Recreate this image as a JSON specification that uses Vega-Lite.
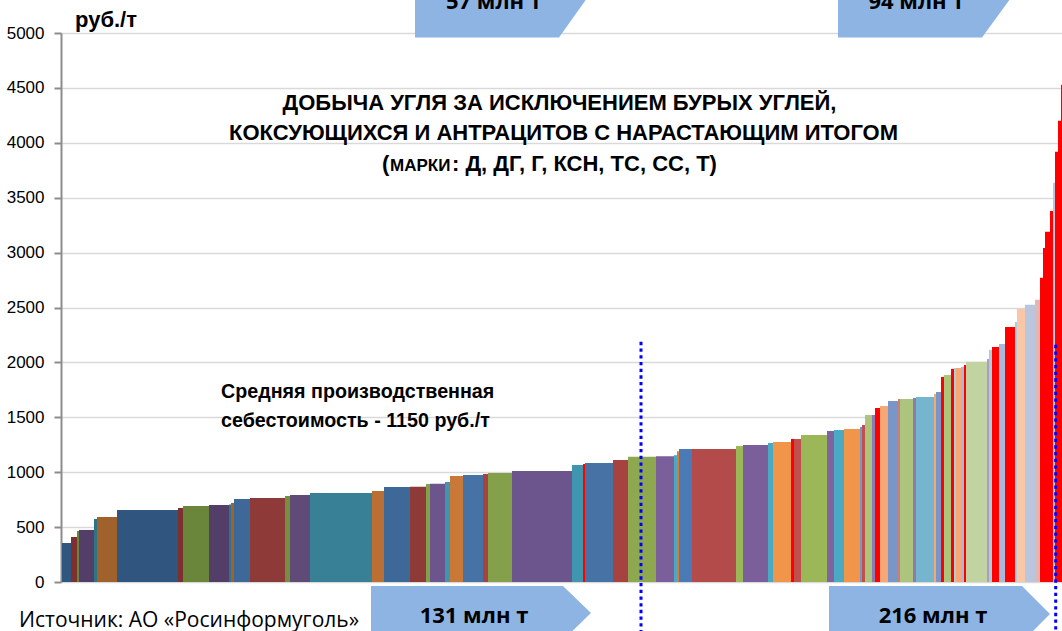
{
  "$schema": "https://vega.github.io/schema/vega-lite/v6.json",
  "width": 1001,
  "height": 549,
  "autosize": {"type": "none"},
  "padding": {"left": 61, "top": 33, "right": 0, "bottom": 49},
  "background": "white",
  "config": {"view": {"stroke": null}},
  "datasets": {
    "bars": [
      {"x0": 1, "x1": 10, "v": 355, "t": "b1"},
      {"x0": 10, "x1": 16, "v": 410, "t": "r1"},
      {"x0": 16, "x1": 18, "v": 465, "t": "g1"},
      {"x0": 18, "x1": 33, "v": 474, "t": "p1"},
      {"x0": 33, "x1": 36, "v": 574, "t": "t1"},
      {"x0": 36, "x1": 56, "v": 592, "t": "o1"},
      {"x0": 56, "x1": 117, "v": 656, "t": "b1"},
      {"x0": 117, "x1": 122, "v": 674, "t": "r1"},
      {"x0": 122, "x1": 148, "v": 692, "t": "g1"},
      {"x0": 148, "x1": 168, "v": 701, "t": "p1"},
      {"x0": 168, "x1": 170, "v": 705, "t": "t1"},
      {"x0": 170, "x1": 173, "v": 720, "t": "o1"},
      {"x0": 173, "x1": 189, "v": 756, "t": "b2"},
      {"x0": 189, "x1": 224, "v": 765, "t": "r2"},
      {"x0": 224, "x1": 229, "v": 783, "t": "g2"},
      {"x0": 229, "x1": 249, "v": 793, "t": "p2"},
      {"x0": 249, "x1": 311, "v": 811, "t": "t2"},
      {"x0": 311, "x1": 323, "v": 829, "t": "o2"},
      {"x0": 323, "x1": 349, "v": 866, "t": "b2"},
      {"x0": 349, "x1": 365, "v": 868, "t": "r2"},
      {"x0": 365, "x1": 369, "v": 893, "t": "g3"},
      {"x0": 369, "x1": 384, "v": 895, "t": "p3"},
      {"x0": 384, "x1": 389, "v": 911, "t": "t3"},
      {"x0": 389, "x1": 402, "v": 966, "t": "o3"},
      {"x0": 402, "x1": 422, "v": 975, "t": "b3"},
      {"x0": 422, "x1": 427, "v": 984, "t": "r3"},
      {"x0": 427, "x1": 451, "v": 993, "t": "g3"},
      {"x0": 451, "x1": 511, "v": 1011, "t": "p3"},
      {"x0": 511, "x1": 522, "v": 1066, "t": "t3"},
      {"x0": 522, "x1": 524, "v": 1075, "t": "R"},
      {"x0": 524, "x1": 552, "v": 1084, "t": "b3"},
      {"x0": 552, "x1": 567, "v": 1112, "t": "r3"},
      {"x0": 567, "x1": 595, "v": 1140, "t": "g4"},
      {"x0": 595, "x1": 613, "v": 1145, "t": "p4"},
      {"x0": 613, "x1": 616, "v": 1155, "t": "t4"},
      {"x0": 616, "x1": 618, "v": 1190, "t": "o4"},
      {"x0": 618, "x1": 631, "v": 1212, "t": "b4"},
      {"x0": 631, "x1": 675, "v": 1212, "t": "r4"},
      {"x0": 675, "x1": 682, "v": 1239, "t": "g5"},
      {"x0": 682, "x1": 707, "v": 1248, "t": "p4"},
      {"x0": 707, "x1": 712, "v": 1266, "t": "t4"},
      {"x0": 712, "x1": 730, "v": 1276, "t": "o5"},
      {"x0": 730, "x1": 733, "v": 1303, "t": "R"},
      {"x0": 733, "x1": 740, "v": 1303, "t": "r5"},
      {"x0": 740, "x1": 766, "v": 1339, "t": "g5"},
      {"x0": 766, "x1": 773, "v": 1376, "t": "p5"},
      {"x0": 773, "x1": 783, "v": 1385, "t": "t4"},
      {"x0": 783, "x1": 799, "v": 1394, "t": "o5"},
      {"x0": 799, "x1": 801, "v": 1412, "t": "b5"},
      {"x0": 801, "x1": 804, "v": 1430, "t": "r5"},
      {"x0": 804, "x1": 811, "v": 1521, "t": "g6"},
      {"x0": 811, "x1": 814, "v": 1521, "t": "p6"},
      {"x0": 814, "x1": 819, "v": 1585, "t": "R"},
      {"x0": 819, "x1": 827, "v": 1604, "t": "o6"},
      {"x0": 827, "x1": 837, "v": 1649, "t": "b5"},
      {"x0": 837, "x1": 839, "v": 1667, "t": "r6"},
      {"x0": 839, "x1": 852, "v": 1667, "t": "g6"},
      {"x0": 852, "x1": 855, "v": 1676, "t": "p6"},
      {"x0": 855, "x1": 873, "v": 1686, "t": "t5"},
      {"x0": 873, "x1": 875, "v": 1713, "t": "o6"},
      {"x0": 875, "x1": 880, "v": 1731, "t": "b5"},
      {"x0": 880, "x1": 883, "v": 1868, "t": "R"},
      {"x0": 883, "x1": 890, "v": 1886, "t": "g6"},
      {"x0": 890, "x1": 893, "v": 1941, "t": "R"},
      {"x0": 893, "x1": 895, "v": 1950, "t": "t6"},
      {"x0": 895, "x1": 900, "v": 1950, "t": "o6"},
      {"x0": 900, "x1": 903, "v": 1959, "t": "b6"},
      {"x0": 903, "x1": 905, "v": 1977, "t": "R"},
      {"x0": 905, "x1": 926, "v": 2005, "t": "g7"},
      {"x0": 926, "x1": 928, "v": 2032, "t": "p7"},
      {"x0": 928, "x1": 931, "v": 2114, "t": "t6"},
      {"x0": 931, "x1": 938, "v": 2141, "t": "R"},
      {"x0": 938, "x1": 944, "v": 2168, "t": "b6"},
      {"x0": 944, "x1": 954, "v": 2323, "t": "R"},
      {"x0": 954, "x1": 956, "v": 2369, "t": "t6"},
      {"x0": 956, "x1": 964, "v": 2488, "t": "o7"},
      {"x0": 964, "x1": 974, "v": 2524, "t": "b7"},
      {"x0": 974, "x1": 979, "v": 2570, "t": "r7"},
      {"x0": 979, "x1": 982, "v": 2770, "t": "R"},
      {"x0": 982, "x1": 984, "v": 3043, "t": "R"},
      {"x0": 984, "x1": 989, "v": 3189, "t": "R"},
      {"x0": 989, "x1": 992, "v": 3380, "t": "R"},
      {"x0": 992, "x1": 994, "v": 3636, "t": "b7"},
      {"x0": 994, "x1": 997, "v": 3918, "t": "R"},
      {"x0": 997, "x1": 1000, "v": 4200, "t": "R"},
      {"x0": 1000, "x1": 1001, "v": 4528, "t": "R"}
    ],
    "arrows": [
      {"id": "a131", "x": 310, "top": -36, "bottom": -529},
      {"id": "a131", "x": 502, "top": -36, "bottom": -529},
      {"id": "a131", "x": 530, "top": -283, "bottom": -283},
      {"id": "a216", "x": 768, "top": -36, "bottom": -547},
      {"id": "a216", "x": 961, "top": -36, "bottom": -547},
      {"id": "a216", "x": 989, "top": -292, "bottom": -292},
      {"id": "a57", "x": 354, "top": 5900, "bottom": 4958},
      {"id": "a57", "x": 498, "top": 5900, "bottom": 4958},
      {"id": "a57", "x": 539, "top": 5484, "bottom": 5484},
      {"id": "a94", "x": 777, "top": 5900, "bottom": 4958},
      {"id": "a94", "x": 921, "top": 5900, "bottom": 4958},
      {"id": "a94", "x": 963, "top": 5484, "bottom": 5484}
    ],
    "dots": [
      {"x": 580, "y1": 2187, "y2": -540},
      {"x": 994.7, "y1": 2160, "y2": -540}
    ],
    "arrowText": [
      {"x": 413, "y": -374, "label": "131 млн т"},
      {"x": 872, "y": -374, "label": "216 млн т"},
      {"x": 433, "y": 5216, "label": "57 млн т"},
      {"x": 855.5, "y": 5216, "label": "94 млн т"}
    ],
    "titleText": [
      {"x": 498.5, "y": 4300, "label": "ДОБЫЧА УГЛЯ ЗА ИСКЛЮЧЕНИЕМ БУРЫХ УГЛЕЙ,"},
      {"x": 502.5, "y": 4027, "label": "КОКСУЮЩИХСЯ И АНТРАЦИТОВ С НАРАСТАЮЩИМ ИТОГОМ"}
    ],
    "noteText": [
      {"x": 160, "y": 1676, "label": "Средняя производственная"},
      {"x": 160, "y": 1412, "label": "себестоимость - 1150 руб./т"}
    ]
  },
  "layer": [
    {
      "data": {"name": "bars"},
      "mark": {"type": "rect"},
      "encoding": {
        "x": {"field": "x0", "type": "quantitative", "scale": {"domain": [0, 1001], "nice": false, "zero": false}, "axis": null},
        "x2": {"field": "x1"},
        "y": {"field": "v", "type": "quantitative", "scale": {"domain": [0, 5000], "nice": false},
          "axis": {"values": [0, 500, 1000, 1500, 2000, 2500, 3000, 3500, 4000, 4500, 5000], "format": "d", "title": null,
            "labelFont": "Liberation Sans", "labelFontSize": 17, "labelColor": "#000000", "labelPadding": 10,
            "tickSize": 7, "tickColor": "#8C8C8C", "tickWidth": 2, "domainColor": "#8C8C8C", "domainWidth": 2,
            "grid": true, "gridColor": "#D9D9D9", "gridWidth": 1.5}},
        "y2": {"datum": 0},
        "color": {"field": "t", "type": "nominal", "legend": null,
          "scale": {
            "domain": ["b1","b2","b3","b4","b5","b6","b7","r1","r2","r3","r4","r5","r6","r7","g1","g2","g3","g4","g5","g6","g7","p1","p2","p3","p4","p5","p6","p7","t1","t2","t3","t4","t5","t6","o1","o2","o3","o4","o5","o6","o7","R"],
            "range": ["#30557F","#3D6898","#4672A6","#4A7BB7","#7A96C6","#A9B9DA","#BAC6DE","#7C3030","#8D3A38","#A64341","#B24B49","#C0504D","#CC7C7A","#DFB8B6","#6A863A","#758F3E","#84A04B","#8EA850","#9BB758","#ADC47C","#C0D3A0","#533E69","#604B78","#6C558C","#7A5F9A","#8064A2","#8C7AB0","#A99FC4","#2C7486","#378095","#3F96AE","#4AAAC4","#75B6CE","#A9CFDE","#A0612B","#BB6F32","#C87837","#E07A30","#F0954A","#F7A774","#F9C6A8","#FF0000"]
          }}
      }
    },
    {
      "mark": {"type": "rule", "color": "#000000", "strokeWidth": 5},
      "encoding": {"y": {"datum": 1150, "type": "quantitative"}}
    },
    {
      "data": {"name": "arrows"},
      "mark": {"type": "area", "color": "#8EB4E3", "opacity": 1, "interpolate": "linear"},
      "encoding": {
        "x": {"field": "x", "type": "quantitative"},
        "y": {"field": "top", "type": "quantitative"},
        "y2": {"field": "bottom"},
        "detail": {"field": "id", "type": "nominal"}
      }
    },
    {
      "data": {"name": "dots"},
      "mark": {"type": "rule", "color": "#0000FF", "strokeWidth": 3, "strokeDash": [3.3, 3.4]},
      "encoding": {
        "x": {"field": "x", "type": "quantitative"},
        "y": {"field": "y1", "type": "quantitative"},
        "y2": {"field": "y2"}
      }
    },
    {
      "data": {"name": "arrowText"},
      "mark": {"type": "text", "font": "Open Sans", "fontWeight": "bold", "fontSize": 22, "align": "center", "baseline": "alphabetic", "color": "#000000"},
      "encoding": {
        "x": {"field": "x", "type": "quantitative"},
        "y": {"field": "y", "type": "quantitative"},
        "text": {"field": "label"}
      }
    },
    {
      "data": {"name": "titleText"},
      "mark": {"type": "text", "font": "Liberation Sans", "fontWeight": "bold", "fontSize": 22, "align": "center", "baseline": "alphabetic", "color": "#000000"},
      "encoding": {
        "x": {"field": "x", "type": "quantitative"},
        "y": {"field": "y", "type": "quantitative"},
        "text": {"field": "label"}
      }
    },
    {
      "data": {"values": [{"x": 321, "y": 3745, "label": "("}]},
      "mark": {"type": "text", "font": "Liberation Sans", "fontWeight": "bold", "fontSize": 22, "align": "left", "baseline": "alphabetic", "color": "#000000"},
      "encoding": {
        "x": {"field": "x", "type": "quantitative"},
        "y": {"field": "y", "type": "quantitative"},
        "text": {"field": "label"}
      }
    },
    {
      "data": {"values": [{"x": 329, "y": 3745, "label": "МАРКИ"}]},
      "mark": {"type": "text", "font": "Liberation Sans", "fontWeight": "bold", "fontSize": 17, "align": "left", "baseline": "alphabetic", "color": "#000000"},
      "encoding": {
        "x": {"field": "x", "type": "quantitative"},
        "y": {"field": "y", "type": "quantitative"},
        "text": {"field": "label"}
      }
    },
    {
      "data": {"values": [{"x": 391, "y": 3745, "label": ": Д, ДГ, Г, КСН, ТС, СС, Т)"}]},
      "mark": {"type": "text", "font": "Liberation Sans", "fontWeight": "bold", "fontSize": 22, "align": "left", "baseline": "alphabetic", "color": "#000000"},
      "encoding": {
        "x": {"field": "x", "type": "quantitative"},
        "y": {"field": "y", "type": "quantitative"},
        "text": {"field": "label"}
      }
    },
    {
      "data": {"name": "noteText"},
      "mark": {"type": "text", "font": "Liberation Sans", "fontWeight": "bold", "fontSize": 19.7, "align": "left", "baseline": "alphabetic", "color": "#000000"},
      "encoding": {
        "x": {"field": "x", "type": "quantitative"},
        "y": {"field": "y", "type": "quantitative"},
        "text": {"field": "label"}
      }
    },
    {
      "data": {"values": [{"x": 14, "y": 5056, "label": "руб./т"}]},
      "mark": {"type": "text", "font": "Liberation Sans", "fontWeight": "bold", "fontSize": 22, "align": "left", "baseline": "alphabetic", "color": "#000000"},
      "encoding": {
        "x": {"field": "x", "type": "quantitative"},
        "y": {"field": "y", "type": "quantitative"},
        "text": {"field": "label"}
      }
    },
    {
      "data": {"values": [{"x": -42, "y": -410, "label": "Источник: АО «Росинформуголь»"}]},
      "mark": {"type": "text", "font": "Open Sans", "fontSize": 21, "align": "left", "baseline": "alphabetic", "color": "#000000"},
      "encoding": {
        "x": {"field": "x", "type": "quantitative"},
        "y": {"field": "y", "type": "quantitative"},
        "text": {"field": "label"}
      }
    }
  ]
}
